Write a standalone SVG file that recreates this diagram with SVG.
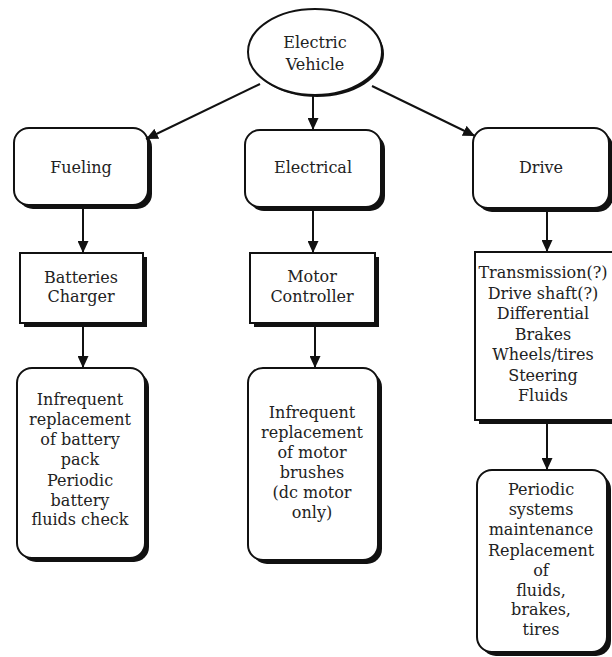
<svg xmlns="http://www.w3.org/2000/svg" width="612" height="657" viewBox="0 0 612 657">
<style>
.bg{fill:#fff}
.shadow{fill:#111;stroke:none}
.box{fill:#fff;stroke:#111;stroke-width:2}
.lbl{font-family:"DejaVu Serif","Liberation Serif",serif;font-size:16px;fill:#222;text-anchor:middle}
.conn{stroke:#111;stroke-width:2;fill:none;marker-end:url(#arr)}
</style>
<defs>
<marker id="arr" markerUnits="userSpaceOnUse" markerWidth="12" markerHeight="11" refX="12" refY="5.5" orient="auto">
<path d="M0,0 L12,5.5 L0,11 z" fill="#111"/>
</marker>
</defs>
<rect class="bg" x="0" y="0" width="612" height="657"/>

<g id="electric-vehicle">
<ellipse class="shadow" cx="317" cy="54" rx="67" ry="43"/>
<ellipse class="box" cx="315" cy="52" rx="67" ry="43"/>
<text class="lbl" x="315" y="48">Electric</text>
<text class="lbl" x="315" y="70">Vehicle</text>
</g>

<g id="fueling">
<rect class="shadow" x="18" y="132" width="134" height="77" rx="15"/>
<rect class="box" x="14" y="128" width="134" height="77" rx="15"/>
<text class="lbl" x="81" y="173">Fueling</text>
</g>

<g id="electrical">
<rect class="shadow" x="249" y="134" width="136" height="77" rx="15"/>
<rect class="box" x="245" y="130" width="136" height="77" rx="15"/>
<text class="lbl" x="313" y="173">Electrical</text>
</g>

<g id="drive">
<rect class="shadow" x="477" y="132" width="136" height="80" rx="15"/>
<rect class="box" x="473" y="128" width="136" height="80" rx="15"/>
<text class="lbl" x="541" y="173">Drive</text>
</g>

<g id="batteries-charger">
<rect class="shadow" x="24" y="257" width="123" height="70"/>
<rect class="box" x="20" y="253" width="123" height="70"/>
<text class="lbl" x="81" y="283">Batteries</text>
<text class="lbl" x="81" y="302">Charger</text>
</g>

<g id="motor-controller">
<rect class="shadow" x="254" y="257" width="125" height="70"/>
<rect class="box" x="250" y="253" width="125" height="70"/>
<text class="lbl" x="312" y="282">Motor</text>
<text class="lbl" x="312" y="302">Controller</text>
</g>

<g id="drive-components">
<rect class="shadow" x="479" y="256" width="145" height="168"/>
<rect class="box" x="475" y="252" width="145" height="168"/>
<text class="lbl" x="543" y="278">Transmission(?)</text>
<text class="lbl" x="543" y="298.5">Drive shaft(?)</text>
<text class="lbl" x="543" y="319">Differential</text>
<text class="lbl" x="543" y="339.5">Brakes</text>
<text class="lbl" x="543" y="360">Wheels/tires</text>
<text class="lbl" x="543" y="380.5">Steering</text>
<text class="lbl" x="543" y="401">Fluids</text>
</g>

<g id="battery-maintenance">
<rect class="shadow" x="21" y="372" width="128" height="190" rx="15"/>
<rect class="box" x="17" y="368" width="128" height="190" rx="15"/>
<text class="lbl" x="80" y="405">Infrequent</text>
<text class="lbl" x="80" y="425">replacement</text>
<text class="lbl" x="80" y="445">of battery</text>
<text class="lbl" x="80" y="465">pack</text>
<text class="lbl" x="80" y="486">Periodic</text>
<text class="lbl" x="80" y="506">battery</text>
<text class="lbl" x="80" y="525">fluids check</text>
</g>

<g id="motor-maintenance">
<rect class="shadow" x="252" y="372" width="130" height="192" rx="15"/>
<rect class="box" x="248" y="368" width="130" height="192" rx="15"/>
<text class="lbl" x="312" y="418">Infrequent</text>
<text class="lbl" x="312" y="438">replacement</text>
<text class="lbl" x="312" y="458">of motor</text>
<text class="lbl" x="312" y="478">brushes</text>
<text class="lbl" x="312" y="498">(dc motor</text>
<text class="lbl" x="312" y="518">only)</text>
</g>

<g id="drive-maintenance">
<rect class="shadow" x="481" y="474" width="130" height="182" rx="15"/>
<rect class="box" x="477" y="470" width="130" height="182" rx="15"/>
<text class="lbl" x="541" y="495">Periodic</text>
<text class="lbl" x="541" y="515">systems</text>
<text class="lbl" x="541" y="535">maintenance</text>
<text class="lbl" x="541" y="556">Replacement</text>
<text class="lbl" x="541" y="576">of</text>
<text class="lbl" x="541" y="596">fluids,</text>
<text class="lbl" x="541" y="615">brakes,</text>
<text class="lbl" x="541" y="635">tires</text>
</g>

<g id="connectors">
<line class="conn" x1="260" y1="84" x2="146" y2="139"/>
<line class="conn" x1="313" y1="96" x2="313" y2="130"/>
<line class="conn" x1="372" y1="86" x2="475" y2="136"/>
<line class="conn" x1="83" y1="209" x2="83" y2="253"/>
<line class="conn" x1="83" y1="327" x2="83" y2="368"/>
<line class="conn" x1="313" y1="211" x2="313" y2="253"/>
<line class="conn" x1="315" y1="327" x2="315" y2="368"/>
<line class="conn" x1="547" y1="212" x2="547" y2="252"/>
<line class="conn" x1="547" y1="424" x2="547" y2="470"/>
</g>
</svg>
